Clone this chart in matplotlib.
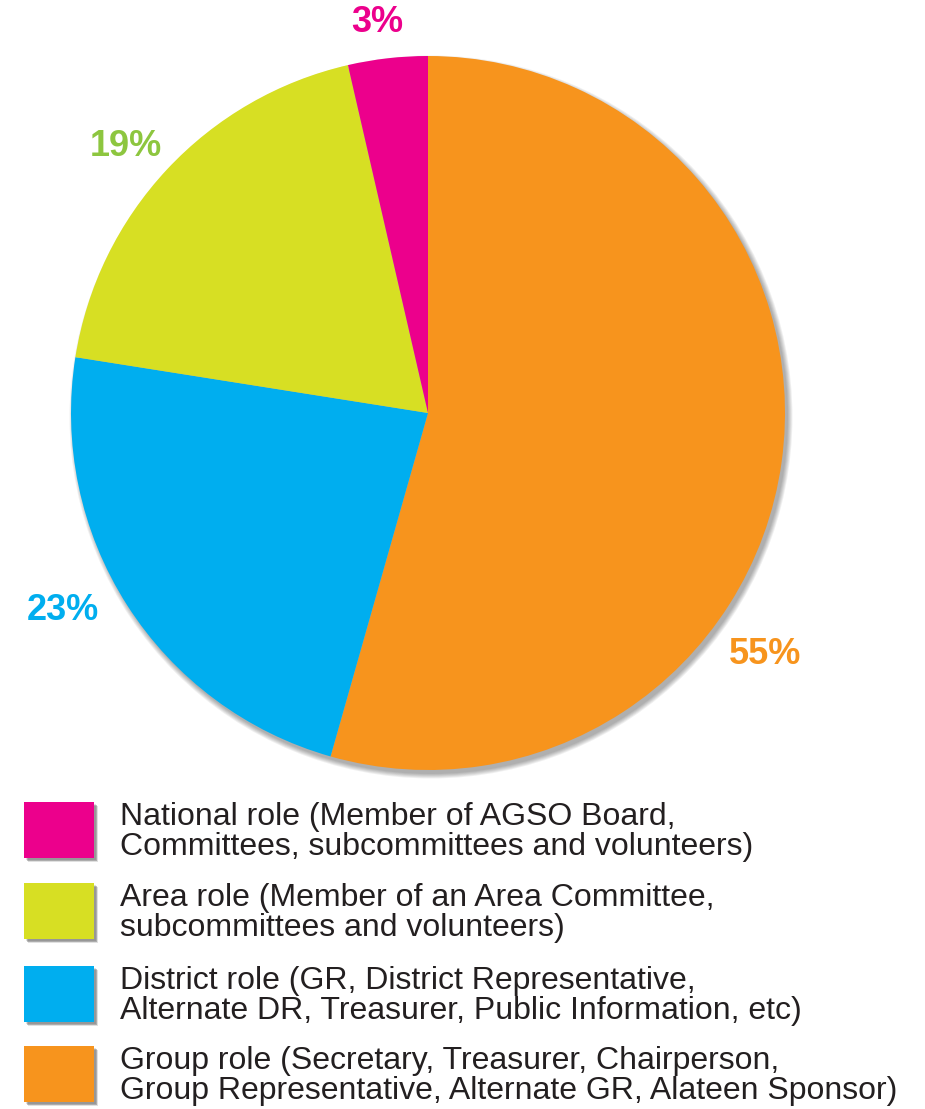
import numpy as np
import matplotlib.pyplot as plt
from matplotlib.patches import Circle, Rectangle

# slice shares (clockwise from 12 o'clock) and the printed labels
roles = ["Group", "District", "Area", "National"]
shares = [54.4, 23.1, 18.9, 3.6]
pct_labels = ["55%", "23%", "19%", "3%"]
slice_colors = ["#F7941D", "#00AEEF", "#D7DF23", "#EC008C"]
label_colors = ["#F7941D", "#00AEEF", "#8DC63F", "#EC008C"]

legend_text = [
    ["National role (Member of AGSO Board,", "Committees, subcommittees and volunteers)"],
    ["Area role (Member of an Area Committee,", "subcommittees and volunteers)"],
    ["District role (GR, District Representative,", "Alternate DR, Treasurer, Public Information, etc)"],
    ["Group role (Secretary, Treasurer, Chairperson,", "Group Representative, Alternate GR, Alateen Sponsor)"],
]
legend_colors = ["#EC008C", "#D7DF23", "#00AEEF", "#F7941D"]

W, H = 925, 1109
plt.rcParams['font.family'] = ['Liberation Sans', 'DejaVu Sans']

fig = plt.figure(figsize=(W / 100, H / 100), dpi=100)
ax = fig.add_axes([0, 0, 1, 1])

cx, cy, r = 428, H - 413, 357

# soft shadow behind the pie, pushed a little to the lower right
for i in range(6):
    ax.add_patch(Circle((cx + 3, cy - 4), r + i * 0.9, color="black",
                        alpha=0.06, lw=0, zorder=0))

ax.pie(shares, colors=slice_colors, startangle=90, counterclock=False,
       center=(cx, cy), radius=r, wedgeprops=dict(linewidth=0))

# percent labels (pixel positions from the picture)
label_pos = [(765, 655), (63, 611), (126, 147), (377, 22)]
for txt, col, (x, y) in zip(pct_labels, label_colors, label_pos):
    ax.text(x, H - y, txt, color=col, fontsize=26, fontweight="bold",
            ha="center", va="center", zorder=5)

# legend boxes with a small drop shadow, two text lines each
box_top = [802, 883, 966, 1046]
for top, col, lines in zip(box_top, legend_colors, legend_text):
    for i in range(4):
        ax.add_patch(Rectangle((24 + 2 + i * 0.6, H - top - 56 - 2 - i * 0.6), 70, 56,
                               color="black", alpha=0.12, lw=0, zorder=1))
    ax.add_patch(Rectangle((24, H - top - 56), 70, 56, color=col, lw=0, zorder=2))
    for k, line in enumerate(lines):
        ax.text(120, H - (top + 23 + 30 * k), line, color="#231F20", fontsize=23,
                ha="left", va="baseline", zorder=5)

ax.set_xlim(0, W)
ax.set_ylim(0, H)
ax.set_aspect("auto")
ax.axis("off")

fig.savefig("out.png", dpi=100)
